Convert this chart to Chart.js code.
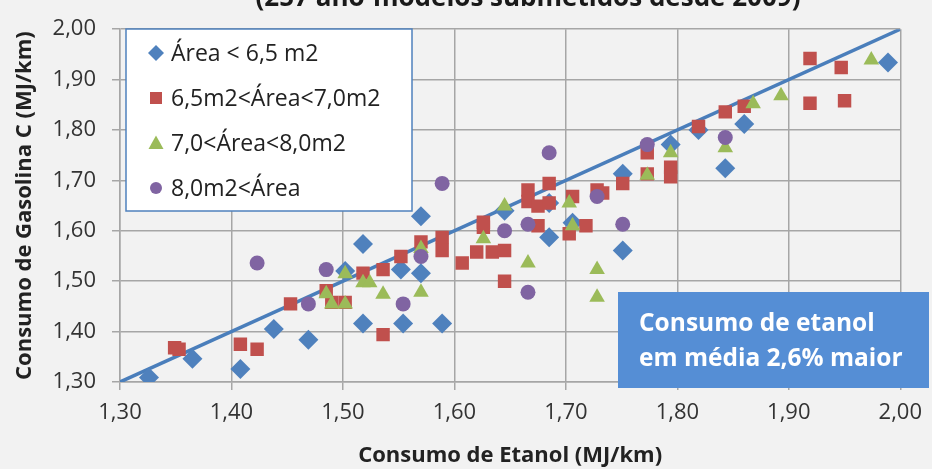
<!DOCTYPE html>
<html>
<head>
<meta charset="utf-8">
<script src="https://cdn.jsdelivr.net/npm/chart.js@4.4.1/dist/chart.umd.min.js"></script>
<style>
  html, body { margin: 0; padding: 0; background: #f2f2f2; }
  #grafico { display: block; }
</style>
</head>
<body>
<canvas id="grafico" width="932" height="469"></canvas>
<script>
// ===== DADOS =====
const tituloGrafico = '(257 ano-modelos submetidos desde 2009)';
const nomesSeries = ['Área < 6,5 m2', '6,5m2<Área<7,0m2', '7,0<Área<8,0m2', '8,0m2<Área'];
const ticksEixo = [1.30, 1.40, 1.50, 1.60, 1.70, 1.80, 1.90, 2.00];
const linhaIgual = [[1.30, 1.30], [2.00, 2.00]];

// [etanol, gasolina C] em MJ/km
const areaAte65 = [
  [1.326, 1.309], [1.365, 1.346], [1.408, 1.326], [1.438, 1.405], [1.469, 1.384],
  [1.502, 1.520], [1.518, 1.574], [1.518, 1.416], [1.552, 1.523], [1.570, 1.629],
  [1.570, 1.516], [1.554, 1.416], [1.589, 1.416], [1.645, 1.640], [1.685, 1.655],
  [1.685, 1.587], [1.706, 1.616], [1.751, 1.713], [1.751, 1.561], [1.794, 1.771],
  [1.819, 1.800], [1.843, 1.724], [1.860, 1.812], [1.989, 1.934]
];
const area65a70 = [
  [1.349, 1.368], [1.353, 1.365], [1.408, 1.375], [1.423, 1.365], [1.453, 1.455],
  [1.485, 1.481], [1.490, 1.458], [1.502, 1.458], [1.518, 1.516], [1.536, 1.523],
  [1.536, 1.394], [1.552, 1.549], [1.570, 1.578], [1.589, 1.587], [1.589, 1.561],
  [1.607, 1.536], [1.620, 1.558], [1.626, 1.607], [1.626, 1.617], [1.634, 1.558],
  [1.645, 1.561], [1.645, 1.500], [1.666, 1.681], [1.666, 1.658], [1.675, 1.649],
  [1.675, 1.610], [1.685, 1.694], [1.685, 1.655], [1.703, 1.594], [1.706, 1.668],
  [1.718, 1.610], [1.728, 1.681], [1.733, 1.675], [1.751, 1.694], [1.773, 1.755],
  [1.773, 1.713], [1.794, 1.726], [1.794, 1.707], [1.819, 1.807], [1.843, 1.836],
  [1.860, 1.847], [1.919, 1.942], [1.947, 1.924], [1.919, 1.853], [1.950, 1.858]
];
const area70a80 = [
  [1.485, 1.475], [1.490, 1.455], [1.502, 1.455], [1.502, 1.515], [1.518, 1.497],
  [1.524, 1.497], [1.536, 1.474], [1.570, 1.565], [1.570, 1.478], [1.626, 1.584],
  [1.645, 1.649], [1.666, 1.536], [1.703, 1.655], [1.706, 1.610], [1.728, 1.523],
  [1.728, 1.468], [1.773, 1.710], [1.794, 1.755], [1.843, 1.765], [1.868, 1.852],
  [1.893, 1.868], [1.974, 1.939]
];
const areaAcima80 = [
  [1.423, 1.536], [1.469, 1.455], [1.485, 1.523], [1.554, 1.455], [1.570, 1.549],
  [1.589, 1.694], [1.645, 1.600], [1.666, 1.613], [1.666, 1.478], [1.685, 1.755],
  [1.728, 1.668], [1.751, 1.613], [1.773, 1.771], [1.843, 1.785]
];

// ===== ESTILOS =====
const fonte = '"Open Sans", Lato, sans-serif';
const cores = ['#4f81bd', '#c0504d', '#9bbb59', '#8064a2'];
const estilos = ['rectRot', 'rect', 'triangle', 'circle'];
const raios = [10, 9.5, 9, 7.5];
const corGrade = '#a6a6a6';

const paraPontos = lista => lista.map(p => ({ x: p[0], y: p[1] }));
const formatar = v => Number(v).toFixed(2).replace('.', ',');

const series = [areaAte65, area65a70, area70a80, areaAcima80];
const datasets = series.map((s, i) => ({
  type: 'scatter',
  label: nomesSeries[i],
  data: paraPontos(s),
  pointStyle: estilos[i],
  pointRadius: raios[i],
  pointHoverRadius: raios[i],
  backgroundColor: cores[i],
  borderColor: cores[i],
  borderWidth: 0,
  order: 4 - i
}));
datasets.push({
  type: 'line',
  label: 'y = x',
  data: paraPontos(linhaIgual),
  borderColor: '#4a7ebb',
  borderWidth: 3.5,
  pointRadius: 0,
  fill: false,
  order: 5
});

// ===== PLUGINS DE DESENHO =====
const fundo = {
  id: 'fundo',
  beforeDraw(chart) {
    const ctx = chart.ctx;
    ctx.save();
    ctx.fillStyle = '#f2f2f2';
    ctx.fillRect(0, 0, chart.width, chart.height);
    ctx.restore();
  }
};

function desenharMarcador(ctx, tipo, x, y, r, cor) {
  ctx.fillStyle = cor;
  ctx.beginPath();
  if (tipo === 'rectRot') {
    ctx.moveTo(x, y - r); ctx.lineTo(x + r, y); ctx.lineTo(x, y + r); ctx.lineTo(x - r, y);
  } else if (tipo === 'rect') {
    ctx.rect(x - r, y - r, 2 * r, 2 * r);
  } else if (tipo === 'triangle') {
    ctx.moveTo(x, y - r); ctx.lineTo(x + r, y + r * 0.8); ctx.lineTo(x - r, y + r * 0.8);
  } else {
    ctx.arc(x, y, r, 0, Math.PI * 2);
  }
  ctx.closePath();
  ctx.fill();
}

const extras = {
  id: 'extras',
  afterDraw(chart) {
    const ctx = chart.ctx;
    ctx.save();
    // titulo cortado no topo
    ctx.fillStyle = '#1a1a1a';
    ctx.font = 'bold 26px ' + fonte;
    ctx.textAlign = 'center';
    ctx.textBaseline = 'alphabetic';
    ctx.fillText(tituloGrafico, 528, 6);

    // legenda dentro da area
    ctx.fillStyle = '#ffffff';
    ctx.fillRect(126, 29, 286, 182);
    ctx.strokeStyle = '#4f81bd';
    ctx.lineWidth = 1.5;
    ctx.strokeRect(126, 29, 286, 182);
    const linhasY = [53, 98, 143, 188];
    const tamLeg = [8, 6, 7.5, 6];
    ctx.font = '23px ' + fonte;
    ctx.textAlign = 'left';
    ctx.textBaseline = 'middle';
    nomesSeries.forEach((n, i) => {
      desenharMarcador(ctx, estilos[i], 156, linhasY[i], tamLeg[i], cores[i]);
      ctx.fillStyle = '#222';
      ctx.fillText(n, 171, linhasY[i] + 1);
    });

    // caixa de destaque
    ctx.fillStyle = '#558ed5';
    ctx.fillRect(618, 292, 311, 96);
    ctx.fillStyle = '#ffffff';
    ctx.font = 'bold 24.5px ' + fonte;
    ctx.textBaseline = 'alphabetic';
    ctx.fillText('Consumo de etanol', 639, 331);
    ctx.fillText('em média 2,6% maior', 639, 366);
    ctx.restore();
  }
};

// ===== GRAFICO =====
const eixoBase = {
  type: 'linear',
  min: 1.3,
  max: 2.0,
  afterBuildTicks: s => { s.ticks = ticksEixo.map(v => ({ value: v })); },
  ticks: {
    color: '#333',
    font: { family: fonte, size: 22 },
    callback: v => formatar(v)
  },
  grid: { color: corGrade, lineWidth: 1.5, tickLength: 8 },
  border: { color: corGrade, width: 1.5 }
};

new Chart(document.getElementById('grafico'), {
  data: { datasets },
  plugins: [fundo, extras],
  options: {
    responsive: false,
    animation: false,
    layout: { padding: { top: 20, right: 25, left: 0, bottom: 0 } },
    plugins: {
      legend: { display: false },
      tooltip: { enabled: false }
    },
    scales: {
      x: {
        ...eixoBase,
        ticks: { ...eixoBase.ticks, padding: 10 },
        title: {
          display: true,
          text: 'Consumo de Etanol (MJ/km)',
          color: '#222',
          font: { family: fonte, size: 22, weight: 'bold' },
          padding: { top: 6, bottom: 0 }
        },
        afterFit: s => { s.height = 87; }
      },
      y: {
        ...eixoBase,
        ticks: { ...eixoBase.ticks, padding: 16 },
        title: {
          display: true,
          text: 'Consumo de Gasolina C (MJ/km)',
          color: '#222',
          font: { family: fonte, size: 22, weight: 'bold' },
          padding: { top: 12, bottom: 0 }
        },
        afterFit: s => { s.width = 120; }
      }
    }
  }
});
</script>
</body>
</html>
